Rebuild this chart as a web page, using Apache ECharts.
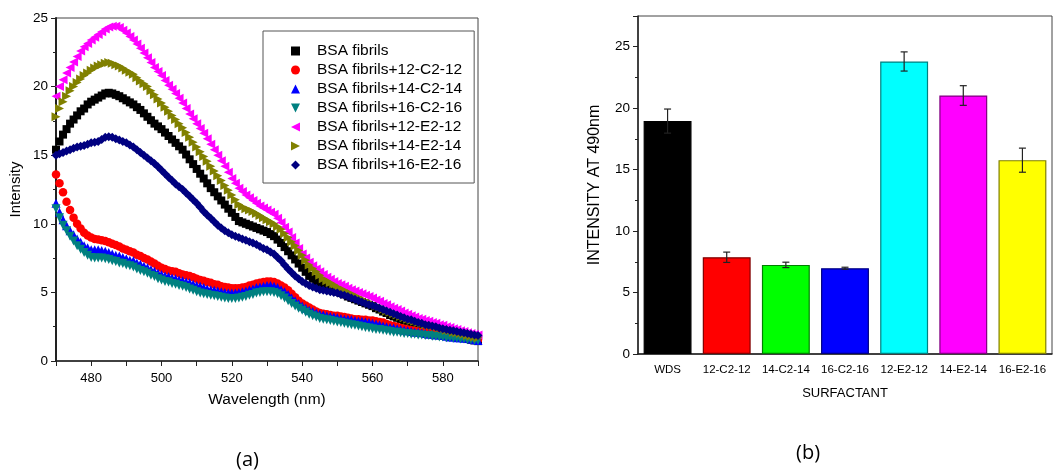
<!DOCTYPE html>
<html>
<head>
<meta charset="utf-8">
<script src="https://cdn.jsdelivr.net/npm/echarts@6/dist/echarts.min.js"></script>
<style>html,body{margin:0;padding:0;background:#fff;}#c{width:1054px;height:475px;}</style>
</head>
<body>
<div id="c"></div>
<script>
// ---------- (a) fluorescence spectra, 470-590 nm, 1 nm steps ----------
const wlStart = 470;
const wlStep = 1;

const bsaFibrils = [15.4,16.0,16.5,16.9,17.3,17.6,17.9,18.2,18.4,18.7,
18.9,19.05,19.2,19.35,19.5,19.55,19.5,19.4,19.3,19.15,
19.0,18.85,18.7,18.5,18.3,18.05,17.8,17.55,17.3,17.1,
16.9,16.65,16.4,16.15,15.9,15.65,15.4,15.05,14.7,14.35,
14.0,13.65,13.3,12.95,12.6,12.3,12.0,11.7,11.4,11.1,
10.8,10.5,10.2,10.1,10.0,9.9,9.8,9.7,9.6,9.5,
9.4,9.25,9.1,8.85,8.6,8.3,8.0,7.7,7.4,7.1,
6.8,6.5,6.2,6.0,5.8,5.65,5.5,5.35,5.25,5.15,
5.05,4.95,4.85,4.7,4.6,4.5,4.4,4.3,4.2,4.1,
4.0,3.85,3.75,3.6,3.5,3.35,3.25,3.15,3.05,2.95,
2.9,2.8,2.75,2.65,2.6,2.5,2.45,2.35,2.3,2.2,
2.15,2.05,2.0,1.9,1.85,1.75,1.7,1.6,1.55,1.5,
1.45];
const plus12C212 = [13.6,12.95,12.3,11.6,11.0,10.45,10.0,9.65,9.35,9.15,
9.0,8.9,8.85,8.8,8.75,8.65,8.55,8.45,8.35,8.2,
8.1,8.0,7.9,7.75,7.65,7.5,7.4,7.25,7.1,6.95,
6.8,6.7,6.6,6.55,6.5,6.4,6.3,6.25,6.2,6.1,
6.0,5.9,5.85,5.75,5.7,5.6,5.55,5.45,5.4,5.35,
5.3,5.3,5.3,5.35,5.4,5.5,5.55,5.65,5.7,5.75,
5.8,5.8,5.75,5.65,5.5,5.35,5.15,4.9,4.65,4.4,
4.2,4.05,3.9,3.75,3.6,3.5,3.45,3.4,3.35,3.3,
3.3,3.25,3.2,3.15,3.1,3.05,3.05,3.0,3.0,2.95,
2.95,2.9,2.85,2.8,2.7,2.6,2.55,2.5,2.4,2.35,
2.3,2.25,2.2,2.15,2.1,2.1,2.05,2.0,1.95,1.9,
1.9,1.85,1.85,1.8,1.75,1.7,1.7,1.65,1.6,1.55,
1.55];
const plus14C214 = [11.5,10.85,10.3,9.85,9.5,9.2,8.9,8.65,8.4,8.25,
8.1,8.1,8.1,8.05,8.0,7.9,7.8,7.7,7.65,7.55,
7.45,7.35,7.3,7.15,7.05,6.9,6.8,6.65,6.55,6.4,
6.3,6.2,6.15,6.05,6.0,5.9,5.85,5.75,5.7,5.6,
5.5,5.45,5.35,5.25,5.2,5.15,5.1,5.05,5.0,4.95,
4.95,4.95,5.0,5.05,5.1,5.2,5.25,5.35,5.4,5.45,
5.5,5.5,5.45,5.35,5.2,5.05,4.85,4.6,4.4,4.2,
4.0,3.85,3.7,3.6,3.5,3.4,3.35,3.3,3.25,3.2,
3.15,3.1,3.05,3.05,3.0,2.95,2.9,2.9,2.85,2.8,
2.75,2.7,2.65,2.55,2.5,2.45,2.4,2.35,2.3,2.25,
2.2,2.15,2.1,2.1,2.05,2.0,1.95,1.95,1.9,1.9,
1.85,1.8,1.75,1.75,1.7,1.7,1.65,1.65,1.6,1.55,
1.5];
const plus16C216 = [11.1,10.45,9.9,9.5,9.1,8.75,8.4,8.15,7.9,7.7,
7.55,7.5,7.5,7.5,7.45,7.4,7.3,7.25,7.15,7.1,
7.0,6.95,6.85,6.7,6.6,6.5,6.4,6.25,6.15,6.0,
5.9,5.8,5.75,5.65,5.6,5.5,5.45,5.35,5.25,5.15,
5.05,4.95,4.9,4.85,4.8,4.75,4.7,4.65,4.6,4.55,
4.55,4.55,4.6,4.65,4.7,4.8,4.85,4.95,5.0,5.05,
5.05,5.05,5.0,4.9,4.75,4.6,4.4,4.2,4.0,3.85,
3.7,3.55,3.4,3.3,3.2,3.1,3.05,3.0,2.95,2.9,
2.85,2.8,2.75,2.7,2.65,2.6,2.55,2.5,2.45,2.4,
2.35,2.3,2.3,2.25,2.2,2.15,2.1,2.1,2.05,2.0,
2.0,1.95,1.95,1.9,1.9,1.85,1.85,1.8,1.8,1.75,
1.75,1.7,1.7,1.65,1.65,1.6,1.6,1.55,1.55,1.5,
1.5];
const plus12E212 = [19.3,20.0,20.5,21.0,21.4,21.8,22.2,22.6,22.9,23.15,
23.4,23.6,23.8,24.0,24.2,24.35,24.4,24.4,24.3,24.1,
23.9,23.65,23.4,23.1,22.8,22.45,22.1,21.75,21.4,21.1,
20.8,20.45,20.1,19.8,19.5,19.15,18.8,18.4,18.0,17.65,
17.3,16.95,16.6,16.2,15.8,15.4,15.0,14.6,14.2,13.75,
13.3,12.95,12.6,12.35,12.1,11.9,11.7,11.5,11.3,11.15,
11.0,10.85,10.7,10.4,10.1,9.75,9.4,9.0,8.6,8.2,
7.8,7.5,7.2,6.95,6.7,6.5,6.3,6.1,5.95,5.8,
5.65,5.55,5.45,5.3,5.2,5.1,5.0,4.9,4.8,4.7,
4.6,4.45,4.35,4.2,4.1,3.95,3.85,3.75,3.65,3.5,
3.4,3.3,3.2,3.1,3.05,2.95,2.9,2.8,2.75,2.65,
2.6,2.5,2.45,2.35,2.3,2.2,2.15,2.05,2.0,1.95,
1.9];
const plus14E214 = [17.8,18.4,18.9,19.3,19.7,20.0,20.3,20.55,20.8,21.0,
21.2,21.35,21.5,21.6,21.7,21.75,21.7,21.6,21.5,21.35,
21.2,21.05,20.9,20.65,20.4,20.2,20.0,19.7,19.4,19.1,
18.8,18.5,18.2,17.9,17.6,17.3,17.0,16.65,16.3,15.95,
15.6,15.25,14.9,14.55,14.2,13.85,13.5,13.15,12.8,12.45,
12.1,11.75,11.4,11.25,11.1,11.0,10.9,10.75,10.6,10.45,
10.3,10.15,10.0,9.8,9.6,9.3,9.0,8.7,8.4,8.05,
7.7,7.35,7.0,6.75,6.5,6.25,6.0,5.85,5.7,5.55,
5.4,5.25,5.15,5.0,4.9,4.75,4.65,4.5,4.4,4.25,
4.15,4.0,3.9,3.75,3.65,3.55,3.45,3.35,3.25,3.15,
3.05,2.95,2.9,2.8,2.75,2.65,2.6,2.55,2.5,2.4,
2.35,2.25,2.2,2.1,2.05,2.0,1.95,1.85,1.8,1.75,
1.7];
const plus16E216 = [15.0,15.1,15.2,15.3,15.4,15.5,15.6,15.65,15.7,15.8,
15.9,15.95,16.0,16.15,16.3,16.35,16.3,16.2,16.1,16.0,
15.9,15.75,15.6,15.4,15.2,15.0,14.8,14.6,14.4,14.15,
13.9,13.65,13.4,13.15,12.9,12.7,12.5,12.25,12.0,11.75,
11.5,11.2,10.9,10.65,10.4,10.15,9.9,9.7,9.5,9.35,
9.2,9.1,9.0,8.9,8.8,8.7,8.6,8.5,8.35,8.2,
8.1,7.95,7.8,7.55,7.3,7.0,6.7,6.45,6.2,6.0,
5.8,5.65,5.5,5.4,5.3,5.2,5.15,5.1,5.05,5.0,
4.95,4.85,4.8,4.7,4.6,4.5,4.4,4.3,4.2,4.1,
4.05,3.95,3.85,3.75,3.65,3.55,3.45,3.35,3.25,3.15,
3.05,3.0,2.9,2.8,2.75,2.65,2.6,2.55,2.5,2.4,
2.35,2.3,2.25,2.2,2.15,2.1,2.05,2.0,1.95,1.9,
1.85];

const spectraNames = ['BSA fibrils','BSA fibrils+12-C2-12','BSA fibrils+14-C2-14','BSA fibrils+16-C2-16','BSA fibrils+12-E2-12','BSA fibrils+14-E2-14','BSA fibrils+16-E2-16'];
const spectraValues = [bsaFibrils, plus12C212, plus14C214, plus16C216, plus12E212, plus14E214, plus16E216];
const spectraColors = ['#000000','#ff0000','#0000ff','#008080','#ff00ff','#808000','#000080'];
const spectraSymbols = ['rect','circle','triangle','path://M0,0 L10,0 L5,10 Z','path://M10,0 L10,10 L0,5 Z','path://M0,0 L0,10 L10,5 Z','diamond'];
const spectraSizes = [8,8.5,9,9,9,9,9];

// ---------- (b) intensity at 490 nm ----------
const surfactants = ['WDS','12-C2-12','14-C2-14','16-C2-16','12-E2-12','14-E2-14','16-E2-16'];
const intensity490 = [18.95,7.87,7.25,6.98,23.8,21.03,15.77];
const intensityErr = [0.98,0.42,0.22,0.08,0.78,0.8,0.98];
const barColors = ['#000000','#ff0000','#00ff00','#0000ff','#00ffff','#ff00ff','#ffff00'];
const barBorders = ['#000000','#800000','#008000','#000080','#008080','#800080','#808000'];

const font = "'Liberation Sans', Arial, sans-serif";
const chart = echarts.init(document.getElementById('c'), null, {renderer:'canvas'});

const scatterSeries = spectraNames.map((n,i)=>({
  name:n, type:'scatter', xAxisIndex:0, yAxisIndex:0,
  symbol: spectraSymbols[i], symbolSize: spectraSizes[i],
  itemStyle:{color:spectraColors[i], opacity:1},
  data: spectraValues[i].map((v,k)=>[wlStart + k*wlStep, v]),
  clip:true, silent:true, animation:false, large:false
}));

const option = {
  animation:false,
  textStyle:{fontFamily:font},
  grid:[
    {left:56, top:18, width:422, height:343, show:true, borderColor:'#444', borderWidth:1},
    {left:638, top:16, width:414, height:338, show:true, borderColor:'#444', borderWidth:1}
  ],
  legend:{
    data: spectraNames.map((n,i)=>({name:n, icon:spectraSymbols[i]})),
    orient:'vertical', left:263, top:31,
    itemWidth:9, itemHeight:9, itemGap:3,
    padding:[12,12,10,28],
    borderColor:'#555', borderWidth:1,
    textStyle:{fontFamily:font, fontSize:15.5, color:'#000', lineHeight:16, padding:[0,0,0,12]},
    selectedMode:false
  },
  xAxis:[
    {type:'value', gridIndex:0, min:470, max:590, interval:10,
     name:'Wavelength (nm)', nameLocation:'middle', nameGap:31,
     nameTextStyle:{fontSize:15.5, color:'#000', fontFamily:font},
     axisLine:{lineStyle:{color:'#222', width:1.5}},
     axisTick:{lineStyle:{color:'#222'}, length:5},
     axisLabel:{color:'#000', fontSize:13, fontFamily:font, margin:11, formatter:v=> (v%20===0 ? String(v) : '')},
     splitLine:{show:false}},
    {type:'category', gridIndex:1, data:surfactants,
     name:'SURFACTANT', nameLocation:'middle', nameGap:33,
     nameTextStyle:{fontSize:13, color:'#000', fontFamily:font},
     axisLine:{lineStyle:{color:'#222', width:1.5}},
     axisTick:{alignWithLabel:false, lineStyle:{color:'#222'}, length:4},
     axisLabel:{color:'#000', fontSize:11.5, fontFamily:font, margin:10, interval:0}},
    {type:'category', gridIndex:1, data:surfactants, position:'bottom',
     axisLine:{show:false}, axisTick:{alignWithLabel:true, lineStyle:{color:'#222'}, length:4},
     axisLabel:{show:false}, splitLine:{show:false}}
  ],
  yAxis:[
    {type:'value', gridIndex:0, min:0, max:25, interval:5,
     name:'Intensity', nameLocation:'middle', nameGap:33,
     nameTextStyle:{fontSize:15, color:'#000', fontFamily:font},
     axisLine:{show:true, lineStyle:{color:'#222', width:2}},
     axisTick:{show:true, lineStyle:{color:'#222'}, length:5},
     minorTick:{show:true, splitNumber:2, length:3, lineStyle:{color:'#222'}},
     axisLabel:{color:'#000', fontSize:13.5, fontFamily:font, margin:8},
     splitLine:{show:false}},
    {type:'value', gridIndex:1, min:0, max:27.5, interval:5,
     name:'INTENSITY AT 490nm', nameLocation:'middle', nameGap:35,
     nameTextStyle:{fontSize:16, color:'#000', fontFamily:font},
     axisLine:{show:true, lineStyle:{color:'#222', width:1.5}},
     axisTick:{show:true, lineStyle:{color:'#222'}, length:5},
     minorTick:{show:true, splitNumber:2, length:3, lineStyle:{color:'#222'}},
     axisLabel:{color:'#000', fontSize:13.5, fontFamily:font, margin:8, showMaxLabel:false},
     splitLine:{show:false}}
  ],
  series: scatterSeries.concat([
    {type:'bar', xAxisIndex:1, yAxisIndex:1, barWidth:'81%', silent:true,
     data: intensity490.map((v,i)=>({value:v, itemStyle:{color:barColors[i], borderColor:barBorders[i], borderWidth:1.2}}))},
    {type:'custom', xAxisIndex:1, yAxisIndex:1, silent:true, z:5,
     data: intensity490.map((v,i)=>[i, v-intensityErr[i], v+intensityErr[i]]),
     renderItem:(params, api)=>{
       const lo = api.coord([api.value(0), api.value(1)]);
       const hi = api.coord([api.value(0), api.value(2)]);
       const hw = 3.5;
       const st = {stroke:'#222', lineWidth:1.2};
       return {type:'group', children:[
         {type:'line', shape:{x1:hi[0], y1:hi[1], x2:lo[0], y2:lo[1]}, style:st},
         {type:'line', shape:{x1:hi[0]-hw, y1:hi[1], x2:hi[0]+hw, y2:hi[1]}, style:st},
         {type:'line', shape:{x1:lo[0]-hw, y1:lo[1], x2:lo[0]+hw, y2:lo[1]}, style:st}
       ]};
     }}
  ]),
  graphic:[
    {type:'text', left:236, top:450, style:{text:'(a)', font:"20px 'Open Sans', sans-serif", fill:'#000'}},
    {type:'text', left:796, top:443, style:{text:'(b)', font:"20px 'Open Sans', sans-serif", fill:'#000'}}
  ]
};
chart.setOption(option);
</script>
</body>
</html>
